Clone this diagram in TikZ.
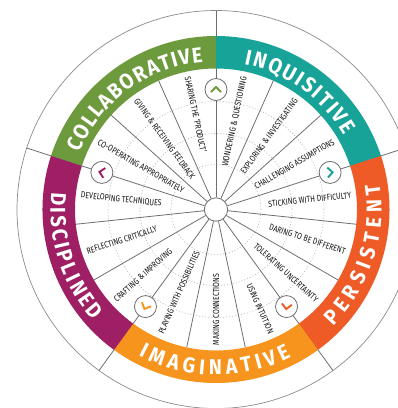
\documentclass[tikz,border=0pt]{standalone}
\usepackage{fontspec}
\setmainfont{Fira Sans}
\newfontfamily\spokefont[FakeStretch=0.8]{Fira Sans}
\newfontfamily\bandfam[FakeStretch=0.92]{Fira Sans}
\usetikzlibrary{decorations.text}

\definecolor{collab}{HTML}{6E9A3E}
\definecolor{inq}{HTML}{17A398}
\definecolor{pers}{HTML}{EE5B26}
\definecolor{imag}{HTML}{F7941D}
\definecolor{disc}{HTML}{9E1F63}
\definecolor{wheelgray}{HTML}{6D6E71}

\newcommand\bandfont{\color{white}\bandfam\bfseries\fontsize{21.5}{21.5}\selectfont}

\tikzset{
  spoke/.style={draw=wheelgray, line width=0.8bp},
  ring/.style={draw=wheelgray!80, line width=0.7bp},
  guide/.style={draw=gray!55, line width=0.6bp, dash pattern=on 1.2bp off 1.8bp},
  hubdot/.style={circle, draw=wheelgray, fill=white, line width=0.8bp,
    minimum size=23.4bp, inner sep=0pt},
  chevbox/.style={circle, draw=wheelgray, fill=white, line width=0.8bp,
    minimum size=22bp, inner sep=0pt},
  chevron/.style={line width=1.9bp},
  habit/.style={font=\spokefont\fontsize{8.8}{8.8}\selectfont, text=black!92, inner sep=0pt},
  bandlabel/.style={decorate, decoration={text along path,
    text={|\bandfont|#1}, text align={fit to path}}}
}

\begin{document}
\begin{tikzpicture}[x=1bp, y=1bp]
  % adjustable parameters
  \def\rhub{11.7}   % hub radius
  \def\rin{141}     % inner edge of the colour band
  \def\rout{173.5}  % outer edge of the colour band
  \def\rrim{199}    % outer circle
  \def\rchev{120}   % radius of the chevron markers
  \def\rtext{136}   % outer end of the habit labels

  \useasboundingbox (-216,-198.5) rectangle (182,209.5);

  % dotted guide circles
  \foreach \r in {45,76,108}
    \draw[guide] (0,0) circle (\r);

  % outer circle
  \draw[ring] (0,0) circle (\rrim);

  % hub
  \node[hubdot] (hub) at (0,0) {};

  % spokes between the habits
  \foreach \a [count=\i] in {66,42,-6,-30,-78,-102,-150,-174,138,114}
  { \coordinate (rim\i) at (\a:\rin);
    \draw[spoke] (hub) -- (rim\i); }

  % spokes between the five dispositions, out to the rim
  \foreach \a [count=\i] in {90,18,-54,-126,162}
  { \coordinate (edge\i) at (\a:\rrim);
    \draw[spoke] (hub) -- (edge\i); }

  % colour band
  \foreach \s/\clr in {90/collab, 18/inq, -54/pers, -126/imag, -198/disc}
    \fill[\clr] (\s:\rout) arc[start angle=\s, end angle=\s+72, radius=\rout]
      -- ({\s+72}:\rin) arc[start angle=\s+72, end angle=\s, radius=\rin] -- cycle;

  % band labels (clockwise on top, anticlockwise below)
  \path[bandlabel=COLLABORATIVE] (157.5:148) arc[start angle=157.5, end angle=95, radius=148];
  \path[bandlabel=INQUISITIVE] (79:148) arc[start angle=79, end angle=30, radius=148];
  \path[bandlabel=PERSISTENT] (-45:165.5) arc[start angle=-45, end angle=9, radius=165.5];
  \path[bandlabel=IMAGINATIVE] (-118:165.5) arc[start angle=-118, end angle=-63, radius=165.5];
  \path[bandlabel=DISCIPLINED] (174:165.5) arc[start angle=174, end angle=222, radius=165.5];

  % habit labels, reading outwards on the right
  \foreach \a/\txt [count=\i] in {78/WONDERING \& QUESTIONING, 54/EXPLORING \& INVESTIGATING,
      30/CHALLENGING ASSUMPTIONS, 6/STICKING WITH DIFFICULTY, -18/DARING TO BE DIFFERENT,
      -42/TOLERATING UNCERTAINTY, -66/USING INTUITION}
    \node[habit, rotate=\a, anchor=east] (out\i) at (\a:\rtext) {\txt};

  % habit labels, reading inwards on the left
  \foreach \a/\txt [count=\i] in {102/SHARING THE ‘PRODUCT’, 126/GIVING \& RECEIVING FEEDBACK,
      150/CO-OPERATING APPROPRIATELY, 174/DEVELOPING TECHNIQUES, 198/REFLECTING CRITICALLY,
      222/CRAFTING \& IMPROVING, 246/PLAYING WITH POSSIBILITIES, 270/MAKING CONNECTIONS}
    \node[habit, rotate=\a-180, anchor=west] (in\i) at (\a:\rtext) {\txt};

  % chevron markers
  \foreach \a/\d/\clr [count=\i] in {90/90/collab, 18/4/inq, -54/-98/pers, -126/-114/imag, 162/168/disc}
  { \node[chevbox] (chev\i) at (\a:\rchev) {};
    \draw[chevron, draw=\clr, shift={(chev\i.center)}, rotate=\d] (-2.5,5) -- (2.5,0) -- (-2.5,-5); }

\end{tikzpicture}
\end{document}
